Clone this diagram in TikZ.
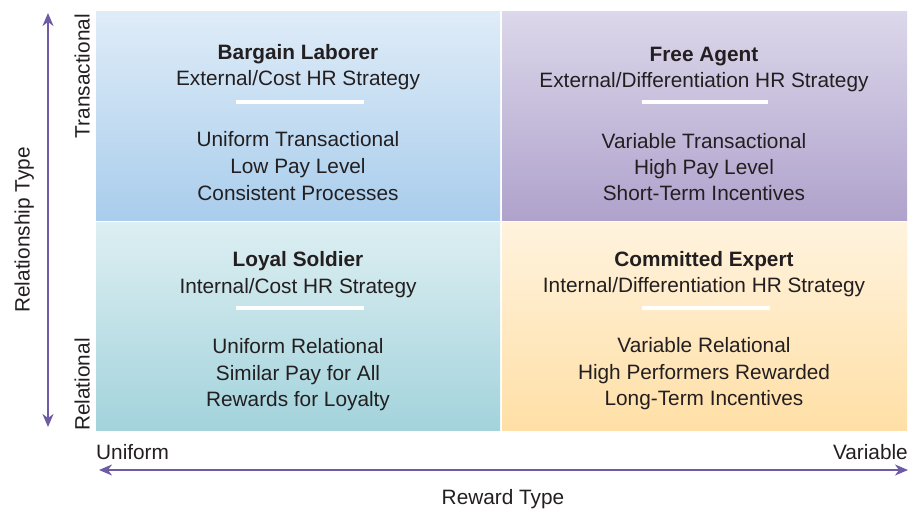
\documentclass[tikz,border=0pt]{standalone}
\usepackage{fontspec}
\setmainfont{Liberation Sans}
\usetikzlibrary{arrows.meta}
\definecolor{axis}{HTML}{6E5BA6}
\definecolor{txt}{HTML}{231F20}
\definecolor{tlTop}{HTML}{DFECF8}
\definecolor{tlBot}{HTML}{A9CDEC}
\definecolor{trTop}{HTML}{DCD7EA}
\definecolor{trBot}{HTML}{AFA2CC}
\definecolor{blTop}{HTML}{DDEFF2}
\definecolor{blBot}{HTML}{A3D3DC}
\definecolor{brTop}{HTML}{FFF3DE}
\definecolor{brBot}{HTML}{FFDFA6}
\tikzset{
  lbl/.style={font=\fontsize{20.8}{24}\selectfont, text=txt, inner sep=0pt, anchor=base},
  ttl/.style={font=\fontsize{20.8}{24}\selectfont\bfseries, text=txt, inner sep=0pt, anchor=base},
  sep/.style={draw=white, line width=3.5pt},
  axarrow/.style={draw=axis, line width=1.8pt, {Stealth[length=13pt,width=11pt,inset=4pt]}-{Stealth[length=13pt,width=11pt,inset=4pt]}},
}
\begin{document}
\begin{tikzpicture}[x=1pt,y=-1pt]
\useasboundingbox (0,0) rectangle (917,508);
% quadrants
\shade[top color=tlTop, bottom color=tlBot] (96,12) rectangle (500,220);
\shade[top color=trTop, bottom color=trBot] (502,12) rectangle (907,220);
\shade[top color=blTop, bottom color=blBot] (96,222) rectangle (500,430);
\shade[top color=brTop, bottom color=brBot] (502,222) rectangle (907,430);
% TL
\node[ttl] (tl1) at (298,59.5) {Bargain Laborer};
\node[lbl] (tl2) at (298,85.5) {External/Cost HR Strategy};
\coordinate (tlbA) at (236,102); \coordinate (tlbB) at (364,102);
\draw[sep] (tlbA) -- (tlbB);
\node[lbl] (tl3) at (298,146.5) {Uniform Transactional};
\node[lbl] (tl4) at (298,173.5) {Low Pay Level};
\node[lbl] (tl5) at (298,200.5) {Consistent Processes};
% TR
\node[ttl] (tr1) at (704,61.5) {Free Agent};
\node[lbl] (tr2) at (704,87.5) {External/Differentiation HR Strategy};
\coordinate (trbA) at (642,102); \coordinate (trbB) at (768,102);
\draw[sep] (trbA) -- (trbB);
\node[lbl] (tr3) at (704,148.5) {Variable Transactional};
\node[lbl] (tr4) at (704,174.5) {High Pay Level};
\node[lbl] (tr5) at (704,200.5) {Short-Term Incentives};
% BL
\node[ttl] (bl1) at (298,266.5) {Loyal Soldier};
\node[lbl] (bl2) at (298,293.5) {Internal/Cost HR Strategy};
\coordinate (blbA) at (236,308); \coordinate (blbB) at (364,308);
\draw[sep] (blbA) -- (blbB);
\node[lbl] (bl3) at (298,353.5) {Uniform Relational};
\node[lbl] (bl4) at (298,380.5) {Similar Pay for All};
\node[lbl] (bl5) at (298,406.5) {Rewards for Loyalty};
% BR
\node[ttl] (br1) at (704,266.5) {Committed Expert};
\node[lbl] (br2) at (704,292.5) {Internal/Differentiation HR Strategy};
\coordinate (brbA) at (642,308); \coordinate (brbB) at (770,308);
\draw[sep] (brbA) -- (brbB);
\node[lbl] (br3) at (704,352.5) {Variable Relational};
\node[lbl] (br4) at (704,379.5) {High Performers Rewarded};
\node[lbl] (br5) at (704,405.5) {Long-Term Incentives};
% axes
\coordinate (vT) at (48,13); \coordinate (vB) at (48,427);
\draw[axarrow] (vB) -- (vT);
\coordinate (hL) at (99,470); \coordinate (hR) at (908,470);
\draw[axarrow] (hL) -- (hR);
\node[lbl, rotate=90, anchor=base east] (trans) at (89.5,14) {Transactional};
\node[lbl, rotate=90, anchor=base west] (rel) at (89.5,431) {Relational};
\node[lbl, rotate=90, anchor=base] (rtype) at (29.5,230) {Relationship Type};
\node[lbl, anchor=base west] (uni) at (96,459.5) {Uniform};
\node[lbl, anchor=base east] (var) at (908,459.5) {Variable};
\node[lbl] (rwt) at (503,504.5) {Reward Type};
\end{tikzpicture}
\end{document}
